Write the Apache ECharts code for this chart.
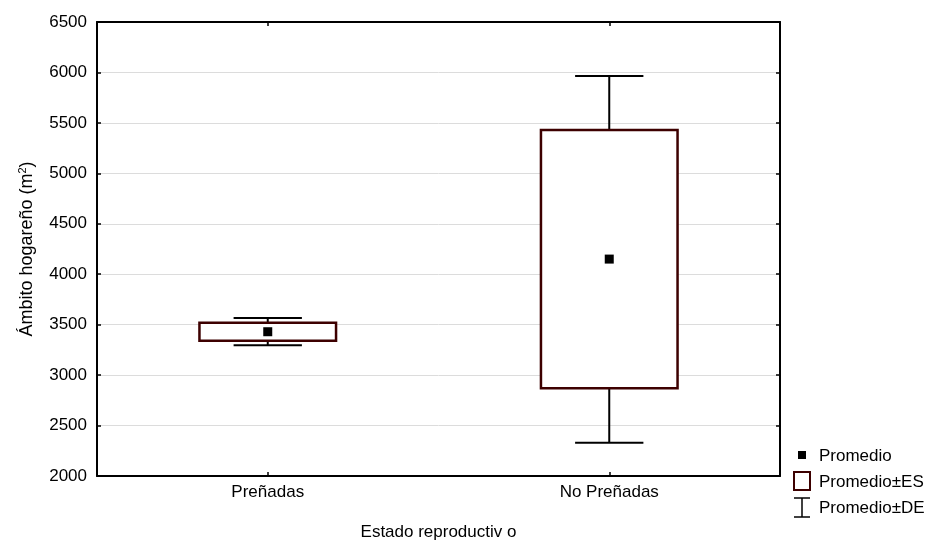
<!DOCTYPE html>
<html>
<head>
<meta charset="utf-8">
<script src="https://cdn.jsdelivr.net/npm/echarts@6/dist/echarts.min.js"></script>
<style>
  html, body { margin: 0; padding: 0; background: #fff; }
  #chart { width: 930px; height: 540px; }
</style>
</head>
<body>
<div id="chart"></div>
<script>
// Home range by reproductive state: mean, mean ± SE, mean ± SD
const categories = ['Preñadas', 'No Preñadas'];
const means = [3430, 4150];
const seLow = [3340, 2870];
const seHigh = [3520, 5430];
const sdLow = [3295, 2330];
const sdHigh = [3565, 5965];

const FONT = '"Liberation Sans", Arial, sans-serif';
const BOX_COLOR = '#3d0000';

const boxData = categories.map((c, i) => [i, seLow[i], seHigh[i]]);
const whiskerData = categories.map((c, i) => [i, sdLow[i], sdHigh[i]]);
const meanData = categories.map((c, i) => [i, means[i]]);

const chart = echarts.init(document.getElementById('chart'), null, { renderer: 'canvas' });

const axisLine = { show: true, lineStyle: { color: '#000', width: 2 } };
const tick = { show: true, inside: true, length: 4, lineStyle: { color: '#000', width: 1.5 } };

chart.setOption({
  animation: false,
  backgroundColor: '#fff',
  textStyle: { fontFamily: FONT },
  grid: { left: 97, right: 150, top: 22, bottom: 64, containLabel: false, outerBoundsMode: 'none' },
  xAxis: [{
    type: 'category',
    data: categories,
    position: 'bottom',
    axisLine: axisLine,
    axisTick: Object.assign({ alignWithLabel: true }, tick),
    axisLabel: { color: '#000', fontSize: 17, fontFamily: FONT, margin: 8 },
    splitLine: { show: false },
    name: 'Estado reproductiv o',
    nameLocation: 'middle',
    nameGap: 48,
    nameTextStyle: { color: '#000', fontSize: 17, fontFamily: FONT }
  }, {
    type: 'category',
    data: categories,
    position: 'top',
    axisLine: axisLine,
    axisTick: Object.assign({ alignWithLabel: true }, tick),
    axisLabel: { show: false },
    splitLine: { show: false }
  }],
  yAxis: [{
    type: 'value',
    min: 2000,
    max: 6500,
    interval: 500,
    position: 'left',
    axisLine: axisLine,
    axisTick: tick,
    axisLabel: { color: '#000', fontSize: 17, fontFamily: FONT, margin: 10, formatter: v => String(v) },
    splitLine: { show: true, lineStyle: { color: '#dcdcdc', width: 1 } },
    name: '{t|Ámbito hogareño (m}{s|2}{t|)}',
    nameLocation: 'middle',
    nameGap: 60,
    nameRotate: 90,
    nameTextStyle: {
      rich: {
        t: { color: '#000', fontSize: 18, fontFamily: FONT },
        s: { color: '#000', fontSize: 11, fontFamily: FONT, verticalAlign: 'top', padding: [0, 0, 9, 0] }
      }
    }
  }, {
    type: 'value',
    min: 2000,
    max: 6500,
    interval: 500,
    position: 'right',
    axisLine: axisLine,
    axisTick: tick,
    axisLabel: { show: false },
    splitLine: { show: false }
  }],
  series: [{
    name: 'Promedio±DE',
    type: 'custom',
    z: 2,
    data: whiskerData,
    renderItem: function (params, api) {
      const x = api.value(0);
      const lo = api.coord([x, api.value(1)]);
      const hi = api.coord([x, api.value(2)]);
      const half = api.size([1, 0])[0] * 0.1;
      const style = { stroke: '#000', lineWidth: 2 };
      return {
        type: 'group',
        children: [
          { type: 'line', shape: { x1: lo[0], y1: lo[1], x2: hi[0], y2: hi[1] }, style: style },
          { type: 'line', shape: { x1: lo[0] - half, y1: lo[1], x2: lo[0] + half, y2: lo[1] }, style: style },
          { type: 'line', shape: { x1: hi[0] - half, y1: hi[1], x2: hi[0] + half, y2: hi[1] }, style: style }
        ]
      };
    }
  }, {
    name: 'Promedio±ES',
    type: 'custom',
    z: 3,
    data: boxData,
    renderItem: function (params, api) {
      const x = api.value(0);
      const lo = api.coord([x, api.value(1)]);
      const hi = api.coord([x, api.value(2)]);
      const w = api.size([1, 0])[0] * 0.4;
      return {
        type: 'rect',
        shape: { x: lo[0] - w / 2, y: hi[1], width: w, height: lo[1] - hi[1] },
        style: { fill: '#fff', stroke: BOX_COLOR, lineWidth: 2.5 }
      };
    }
  }, {
    name: 'Promedio',
    type: 'scatter',
    z: 4,
    data: meanData,
    symbol: 'rect',
    symbolSize: 9,
    itemStyle: { color: '#000', opacity: 1 }
  }],
  graphic: [
    { type: 'rect', left: 798, top: 451, shape: { width: 8, height: 8 }, style: { fill: '#000' } },
    { type: 'text', left: 819, top: 448, style: { text: 'Promedio', fill: '#000', font: '17px ' + FONT } },
    { type: 'rect', x: 794, y: 472, shape: { width: 16, height: 18 }, style: { fill: '#fff', stroke: BOX_COLOR, lineWidth: 2 } },
    { type: 'text', left: 819, top: 474, style: { text: 'Promedio±ES', fill: '#000', font: '17px ' + FONT } },
    { type: 'line', shape: { x1: 794, y1: 498, x2: 810, y2: 498 }, style: { stroke: '#000', lineWidth: 1.5 } },
    { type: 'line', shape: { x1: 802, y1: 498, x2: 802, y2: 517 }, style: { stroke: '#000', lineWidth: 1.5 } },
    { type: 'line', shape: { x1: 794, y1: 517, x2: 810, y2: 517 }, style: { stroke: '#000', lineWidth: 1.5 } },
    { type: 'text', left: 819, top: 500, style: { text: 'Promedio±DE', fill: '#000', font: '17px ' + FONT } }
  ]
});
</script>
</body>
</html>
